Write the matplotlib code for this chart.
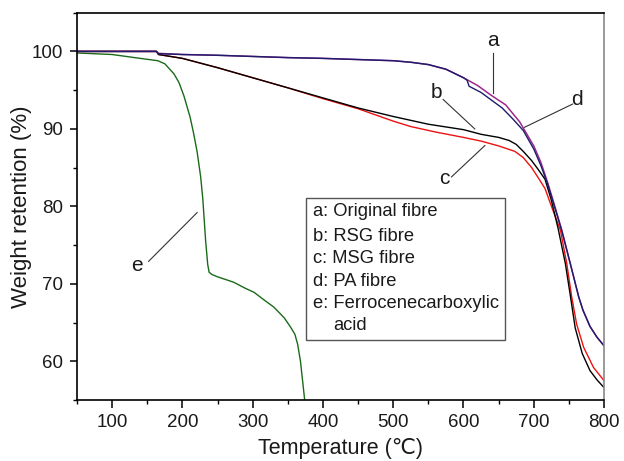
import matplotlib
matplotlib.use("Agg")
import matplotlib.pyplot as plt
from matplotlib.patches import Rectangle

plt.rcParams['font.family'] = ['Liberation Sans', 'DejaVu Sans']

# ---- data ----
T_a = [50, 100, 150, 163, 166, 200, 250, 300, 350, 400, 450, 500, 525, 550, 575, 600,
       620, 640, 660, 680, 700, 710, 720, 730, 740, 752, 764, 770, 780, 790, 800]
W_a = [100.0, 100.0, 100.0, 100.0, 99.75, 99.6, 99.5, 99.35, 99.2, 99.1, 98.95, 98.8, 98.6, 98.3, 97.7, 96.6,
       95.6, 94.3, 93.1, 90.9, 87.8, 85.7, 83.0, 80.0, 76.9, 72.6, 68.3, 66.6, 64.5, 63.1, 62.0]

T_d = [50, 100, 150, 163, 166, 200, 250, 300, 350, 400, 450, 500, 525, 550, 575, 600,
       605, 608, 625, 640, 655, 670, 685, 700, 710, 720, 730, 740, 752, 764, 770, 780, 790, 800]
W_d = [100.0, 100.0, 100.0, 100.0, 99.7, 99.6, 99.5, 99.35, 99.2, 99.1, 98.95, 98.8, 98.6, 98.3, 97.7, 96.6,
       96.3, 95.5, 94.7, 93.7, 92.7, 91.3, 89.8, 87.4, 85.3, 82.8, 79.8, 76.8, 72.6, 68.3, 66.6, 64.5, 63.1, 62.0]

T_b = [50, 100, 163, 166, 200, 250, 300, 350, 400, 450, 500, 550, 600, 625, 650, 665, 675, 685,
       697, 706, 716, 725, 735, 745, 752, 759, 769, 780, 790, 800]
W_b = [100.0, 100.0, 100.0, 99.6, 99.1, 97.9, 96.6, 95.3, 94.0, 92.7, 91.6, 90.6, 89.9, 89.3, 88.9, 88.5, 88.0, 87.1,
       85.9, 84.8, 83.5, 80.8, 77.0, 72.6, 68.5, 64.3, 61.0, 58.8, 57.6, 56.6]

T_c = [50, 100, 163, 166, 200, 250, 300, 350, 400, 450, 475, 500, 525, 560, 600, 626, 650, 673,
       685, 697, 707, 716, 726, 738, 747, 754, 761, 771, 785, 800]
W_c = [100.0, 100.0, 100.0, 99.6, 99.1, 97.9, 96.6, 95.3, 93.9, 92.6, 91.8, 91.0, 90.3, 89.6, 88.9, 88.4, 87.8, 87.1,
       86.3, 85.0, 83.6, 82.3, 79.8, 76.9, 72.6, 68.3, 64.8, 61.8, 59.2, 57.5]

T_e = [50, 100, 140, 165, 175, 188, 195, 202, 211, 216, 221, 226, 229, 233, 236, 238, 242, 250, 260,
       273, 290, 302, 315, 330, 345, 354, 360, 364, 368, 371, 374]
W_e = [99.8, 99.6, 99.1, 98.8, 98.4, 97.1, 96.0, 94.3, 91.5, 89.4, 87.0, 83.8, 81.0, 75.6, 72.5, 71.5, 71.2, 70.9, 70.6,
       70.2, 69.4, 68.9, 68.0, 67.0, 65.6, 64.4, 63.5, 62.2, 60.0, 57.5, 55.0]

legend_lines = ["a: Original fibre", "b: RSG fibre", "c: MSG fibre", "d: PA fibre",
                "e: Ferrocenecarboxylic"]
legend_extra = "acid"

x_ticks = [100, 200, 300, 400, 500, 600, 700, 800]
y_ticks = [60, 70, 80, 90, 100]

# ---- figure ----
fig = plt.figure(figsize=(6.24, 4.61), dpi=100)
ax = fig.add_axes([0.1234, 0.1323, 0.8446, 0.8402])

col_a = '#9c2a8c'
col_d = '#1c1c6c'
col_b = '#000000'
col_c = '#ee1111'
col_e = '#1a6a1a'

ax.plot(T_e, W_e, color=col_e, lw=1.0)
ax.plot(T_c, W_c, color=col_c, lw=1.0)
ax.plot(T_b, W_b, color=col_b, lw=1.0)
ax.plot(T_a, W_a, color=col_a, lw=1.1)
ax.plot(T_d, W_d, color=col_d, lw=1.0)

ax.set_xlim(50, 800)
ax.set_ylim(55, 105)
ax.set_xticks(x_ticks)
ax.set_yticks(y_ticks)
ax.set_xticks([50, 150, 250, 350, 450, 550, 650, 750], minor=True)
ax.set_yticks([55, 65, 75, 85, 95, 105], minor=True)
ax.tick_params(axis='both', which='major', direction='out', length=5, width=1.1,
               labelsize=13.5, colors='black', labelcolor='#1a1a1a')
ax.tick_params(axis='x', which='major', length=6, pad=4)
ax.tick_params(axis='y', which='major', pad=5)
ax.tick_params(axis='both', which='minor', direction='out', length=3, width=1.0)
ax.tick_params(top=False, right=False, which='both')

for s in ['left', 'bottom', 'top']:
    ax.spines[s].set_color('black')
    ax.spines[s].set_linewidth(1.2)
ax.spines['right'].set_color('#888888')
ax.spines['right'].set_linewidth(1.2)

ax.set_xlabel('Temperature (\u2103)', fontsize=15.5, color='#1a1a1a', labelpad=5)
ax.set_ylabel('Weight retention (%)', fontsize=16, color='#1a1a1a', labelpad=0)

# annotations: label letter + leader line
ann_col = '#333333'
ann = [
    ('a', (642.4, 101.4), (642.4, 99.8), (642.4, 94.6)),
    ('b', (561.4, 94.75), (571, 93.8), (616, 90.0)),
    ('c', (573.3, 83.55), (582.9, 83.8), (630.5, 87.85)),
    ('d', (761.4, 93.76), (755.2, 93.2), (686.7, 90.2)),
    ('e', (135.2, 72.3), (151.9, 72.9), (221, 79.2)),
]
for lab, tp, p0, p1 in ann:
    ax.text(tp[0], tp[1], lab, fontsize=15, ha='center', va='center', color='#1a1a1a')
    ax.plot([p0[0], p1[0]], [p0[1], p1[1]], color=ann_col, lw=0.8)

# legend box (manual)
ax.add_patch(Rectangle((0.4345, 0.155), 0.812 - 0.4345, 0.5223 - 0.155,
                       transform=ax.transAxes, fill=True, facecolor='white',
                       edgecolor='#555555', lw=1.0, zorder=5))
ys = [0.486, 0.4216, 0.3658, 0.307, 0.2497]
for t, y in zip(legend_lines, ys):
    ax.text(0.447, y, t, transform=ax.transAxes, fontsize=13.2, va='center', ha='left',
            color='#1a1a1a', zorder=6)
ax.text(0.4863, 0.1936, legend_extra, transform=ax.transAxes, fontsize=13.2, va='center',
        ha='left', color='#1a1a1a', zorder=6)

fig.savefig('out.png', dpi=100)
